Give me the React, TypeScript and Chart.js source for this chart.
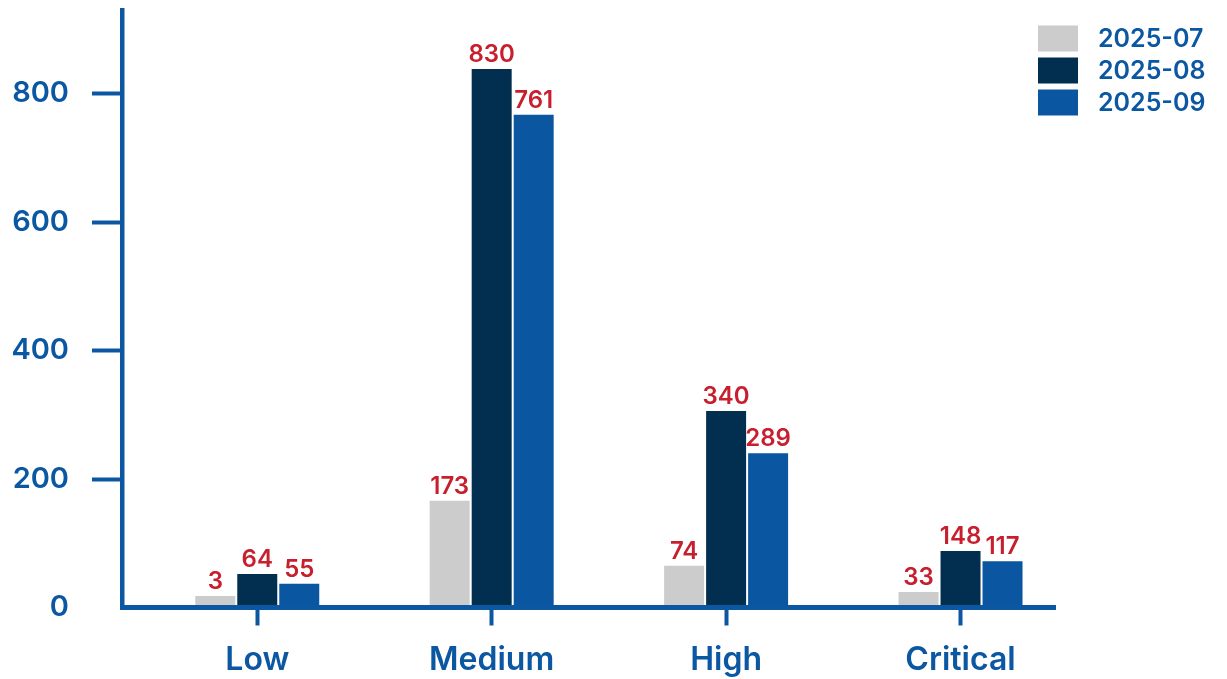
import React, { useEffect, useRef } from "react";
import { Chart, registerables } from "chart.js";

Chart.register(...registerables);

// ---- data ----
const categories = ["Low", "Medium", "High", "Critical"];
const seriesNames = ["2025-07", "2025-08", "2025-09"];
// bar heights (axis units)
const bars2025_07 = [18, 166, 65, 24];
const bars2025_08 = [52, 838, 306, 88];
const bars2025_09 = [37, 767, 240, 72];
// value labels printed above the bars
const labels2025_07 = ["3", "173", "74", "33"];
const labels2025_08 = ["64", "830", "340", "148"];
const labels2025_09 = ["55", "761", "289", "117"];
const yTickValues = [0, 200, 400, 600, 800];

const seriesColors = ["#cccccc", "#022e4f", "#0a56a0"];
const axisBlue = "#0b57a2";
const labelRed = "#c81f2e";
const FONT = "Inter, 'Noto Sans', sans-serif";

const barSeries = [bars2025_07, bars2025_08, bars2025_09];
const labelSeries = [labels2025_07, labels2025_08, labels2025_09];

const valueLabelPlugin = {
  id: "valueLabels",
  afterDatasetsDraw(chart: any) {
    const ctx = chart.ctx;
    ctx.save();
    ctx.font = `600 24px ${FONT}`;
    ctx.fillStyle = labelRed;
    ctx.textAlign = "center";
    ctx.textBaseline = "alphabetic";
    chart.data.datasets.forEach((_ds: any, di: number) => {
      const meta = chart.getDatasetMeta(di);
      meta.data.forEach((el: any, i: number) => {
        ctx.fillText(labelSeries[di][i], el.x, el.y - 7);
      });
    });
    ctx.restore();
  },
};

const legendPlugin = {
  id: "customLegend",
  afterDraw(chart: any) {
    const ctx = chart.ctx;
    const boxX = chart.chartArea.right - 17;
    ctx.save();
    ctx.font = `600 25px ${FONT}`;
    ctx.textAlign = "left";
    ctx.textBaseline = "middle";
    chart.data.datasets.forEach((ds: any, i: number) => {
      const cy = 38.5 + i * 32;
      ctx.fillStyle = ds.backgroundColor;
      ctx.fillRect(boxX, cy - 13, 40, 26);
      ctx.fillStyle = axisBlue;
      ctx.fillText(ds.label, boxX + 60, cy + 1);
    });
    ctx.restore();
  },
};

export default function App() {
  const ref = useRef<HTMLCanvasElement | null>(null);

  useEffect(() => {
    if (!ref.current) return;
    const chart = new Chart(ref.current, {
      type: "bar",
      data: {
        datasets: seriesNames.map((name, si) => ({
          label: name,
          data: categories.map((_c, i) => ({ x: i, y: barSeries[si][i] })),
          backgroundColor: seriesColors[si],
          borderWidth: 0,
          categoryPercentage: 0.5375,
          barPercentage: 0.952,
        })),
      },
      options: {
        responsive: false,
        animation: false,
        layout: { padding: { top: 10, right: 172, left: 0, bottom: 0 } },
        plugins: {
          legend: { display: false },
          tooltip: { enabled: false },
        },
        scales: {
          x: {
            type: "linear",
            min: -0.577,
            max: 3.403,
            offset: false,
            afterBuildTicks: (scale: any) => {
              scale.ticks = categories.map((_c, i) => ({ value: i }));
            },
            afterFit: (scale: any) => {
              scale.height = 71.5;
              scale.paddingLeft = 0;
              scale.paddingRight = 0;
            },
            grid: {
              offset: false,
              drawOnChartArea: false,
              drawTicks: true,
              tickLength: 18,
              tickWidth: 4,
              tickColor: axisBlue,
            },
            border: { display: true, color: axisBlue, width: 5, z: 1 },
            ticks: {
              color: axisBlue,
              padding: 16,
              maxRotation: 0,
              autoSkip: false,
              font: { family: FONT, size: 32, weight: "600" },
              callback: (v: any) => categories[Math.round(Number(v))] ?? "",
            },
          },
          y: {
            type: "linear",
            min: 0,
            max: 930,
            afterBuildTicks: (scale: any) => {
              scale.ticks = yTickValues.map((v) => ({ value: v }));
            },
            afterFit: (scale: any) => {
              scale.width = 122;
              scale.paddingTop = 0;
              scale.paddingBottom = 0;
            },
            grid: {
              drawOnChartArea: false,
              drawTicks: true,
              tickLength: 30,
              tickWidth: 4,
              tickColor: (c: any) => (c.tick && c.tick.value === 0 ? "rgba(0,0,0,0)" : axisBlue),
            },
            border: { display: true, color: axisBlue, width: 4.5, z: 1 },
            ticks: {
              color: axisBlue,
              padding: 23,
              font: { family: FONT, size: 29, weight: "600" },
              callback: (v: any) => String(v),
            },
          },
        },
      },
      plugins: [valueLabelPlugin, legendPlugin],
    } as any);
    return () => chart.destroy();
  }, []);

  return (
    <canvas
      ref={ref}
      width={1227}
      height={679}
      style={{ position: "absolute", left: 0, top: 0, display: "block", width: 1227, height: 679 }}
    />
  );
}
